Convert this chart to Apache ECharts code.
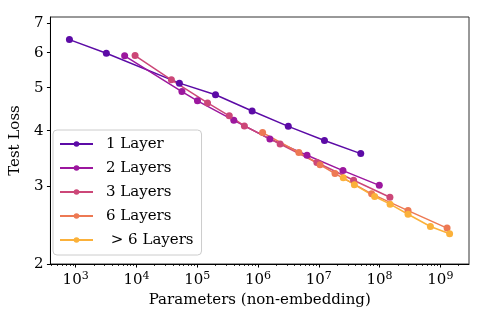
<!DOCTYPE html>
<html><head><meta charset="utf-8">
<script src="https://cdn.jsdelivr.net/npm/echarts@6/dist/echarts.min.js"></script>
<style>html,body{margin:0;padding:0;background:#fff}#c{width:494px;height:325px}</style>
</head><body><div id="c"></div>
<script>
// ---- data ----
const seriesNames = ['1 Layer', '2 Layers', '3 Layers', '6 Layers', ' > 6 Layers'];
const seriesColors = ['#5c0ba6', '#9c179e', '#cc4778', '#ed7953', '#fbb13a'];

const params1 = [7.9e2, 3.2e3, 5.1e4, 2.0e5, 8.0e5, 3.15e6, 1.24e7, 4.9e7];
const loss1   = [6.42, 5.98, 5.12, 4.82, 4.43, 4.09, 3.80, 3.55];

const params2 = [6.4e3, 5.6e4, 1.01e5, 4.0e5, 1.57e6, 6.4e6, 2.5e7, 9.9e7];
const loss2   = [5.90, 4.90, 4.67, 4.22, 3.83, 3.52, 3.25, 3.01];

const params3 = [9.5e3, 3.76e4, 1.48e5, 3.37e5, 5.97e5, 2.31e6, 9.3e6, 3.74e7, 1.48e8];
const loss3   = [5.91, 5.21, 4.62, 4.32, 4.10, 3.73, 3.39, 3.09, 2.83];

const params6 = [1.19e6, 4.7e6, 1.05e7, 1.85e7, 7.4e7, 2.94e8, 1.29e9];
const loss6   = [3.96, 3.57, 3.35, 3.20, 2.88, 2.64, 2.41];

const paramsDeep = [2.53e7, 3.85e7, 8.3e7, 1.49e8, 2.94e8, 6.86e8, 1.42e9];
const lossDeep   = [3.13, 3.02, 2.84, 2.73, 2.59, 2.43, 2.34];

const xTickValues = [1e3, 1e4, 1e5, 1e6, 1e7, 1e8, 1e9];
const yTickValues = [2, 3, 4, 5, 6, 7];
const xAxisTitle = 'Parameters (non-embedding)';
const yAxisTitle = 'Test Loss';

// ---- chart ----
const FONT = 'DejaVu Serif';
const xMin = 385, xMax = 2.96e9, yMin = 2, yMax = 7.22;
const xMinorTicks = [];
for (let e = 2; e <= 9; e++) for (let k = 2; k <= 9; k++) {
  const v = k * Math.pow(10, e);
  if (v > xMin && v < xMax) xMinorTicks.push(v);
}
const allParams = [params1, params2, params3, params6, paramsDeep];
const allLoss = [loss1, loss2, loss3, loss6, lossDeep];

const series = seriesNames.map((name, i) => ({
  name: name,
  type: 'line',
  xAxisIndex: 0, yAxisIndex: 0,
  data: allParams[i].map((p, j) => [p, allLoss[i][j]]),
  symbol: 'circle',
  symbolSize: 7,
  showSymbol: true,
  color: seriesColors[i],
  lineStyle: { width: 1.5, color: seriesColors[i] },
  itemStyle: { color: seriesColors[i] },
  animation: false,
  emphasis: { disabled: true }
}));

const chart = echarts.init(document.getElementById('c'), null, { renderer: 'canvas' });
chart.setOption({
  animation: false,
  backgroundColor: '#fff',
  textStyle: { fontFamily: FONT },
  grid: { left: 45, right: 25, top: 17, height: 247, show: true, borderColor: '#333', borderWidth: 1, backgroundColor: 'transparent' },
  xAxis: [{
    type: 'log', logBase: 10, min: xMin, max: xMax, position: 'bottom',
    name: xAxisTitle, nameLocation: 'middle', nameGap: 29,
    nameTextStyle: { fontFamily: FONT, fontSize: 15, color: '#000' },
    axisLine: { show: true, lineStyle: { color: '#000', width: 1 } },
    axisTick: { show: true, length: 3.5, lineStyle: { color: '#000', width: 1 }, customValues: xTickValues },
    axisLabel: {
      customValues: xTickValues, margin: 7,
      formatter: v => '{b|10}{s|' + Math.round(Math.log10(v)) + '}',
      rich: {
        b: { fontFamily: FONT, fontSize: 15, color: '#000', lineHeight: 17, verticalAlign: 'bottom' },
        s: { fontFamily: FONT, fontSize: 11, color: '#000', verticalAlign: 'top' }
      }
    },
    splitLine: { show: false }, minorTick: { show: false }
  }, {
    type: 'log', logBase: 10, min: xMin, max: xMax, position: 'bottom',
    axisLine: { show: false },
    axisTick: { show: true, length: 2, lineStyle: { color: '#000', width: 0.8 }, customValues: xMinorTicks },
    axisLabel: { show: false },
    splitLine: { show: false }
  }],
  yAxis: [{
    type: 'log', logBase: 10, min: yMin, max: yMax,
    name: yAxisTitle, nameLocation: 'middle', nameGap: 22, nameRotate: 90,
    nameTextStyle: { fontFamily: FONT, fontSize: 15, color: '#000' },
    axisLine: { show: true, lineStyle: { color: '#000', width: 1 } },
    axisTick: { show: true, length: 3.5, lineStyle: { color: '#000', width: 1 }, customValues: yTickValues },
    axisLabel: { customValues: yTickValues, margin: 7, fontFamily: FONT, fontSize: 15, color: '#000', formatter: v => String(Math.round(v)) },
    splitLine: { show: false }, minorTick: { show: false }
  }],
  legend: {
    left: 53, top: 130, orient: 'vertical',
    data: seriesNames,
    itemWidth: 33, itemHeight: 7, itemGap: 8,
    padding: [6, 8, 7, 6],
    backgroundColor: 'rgba(255,255,255,0.85)',
    borderColor: '#cccccc', borderWidth: 1, borderRadius: 4,
    textStyle: { fontFamily: FONT, fontSize: 15, color: '#000', lineHeight: 16, padding: [0, 0, 0, 8] },
    selectedMode: false
  },
  series: series
});
</script>
</body></html>
